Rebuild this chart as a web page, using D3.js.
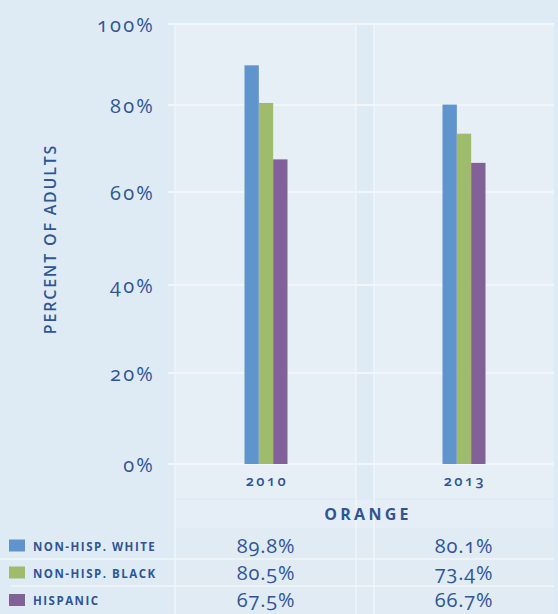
<!DOCTYPE html>
<html>
<head>
<meta charset="utf-8">
<script src="https://cdn.jsdelivr.net/npm/d3@7"></script>
<style>
  html, body { margin: 0; padding: 0; background: #deebf4; }
  svg { display: block; }
  text { font-family: "Open Sans", "Noto Sans", sans-serif; fill: #2f5597; }
  .num { font-variant-numeric: oldstyle-nums; }
</style>
</head>
<body>
<script>
// Adults by ethnicity, Orange county
const years = ["2010", "2013"];
const series = ["NON-HISP. WHITE", "NON-HISP. BLACK", "HISPANIC"];
const white = [89.8, 80.1];
const black = [80.5, 73.4];
const hispanic = [67.5, 66.7];
const seriesColors = ["#5f94cd", "#9fbc6d", "#816198"];
const tickValues = [0, 20, 40, 60, 80, 100];
const tickLabels = ["0%", "20%", "40%", "60%", "80%", "100%"];
const groupName = "ORANGE";
const axisTitle = "PERCENT OF ADULTS";

const values = [white, black, hispanic];

const W = 558, H = 614;
const svg = d3.select("body").append("svg").attr("width", W).attr("height", H);

const plotLeft = 176, plotRight = 554, plotTop = 24;

// value axis: gridlines stand at fixed stops of the frame
const y = d3.scaleLinear()
  .domain(tickValues)
  .range([464, 373, 285, 192, 105, 24]);

const x = d3.scaleBand().domain(years).range([plotLeft, plotRight])
  .paddingInner(0.0909).paddingOuter(0);
const x1 = d3.scaleBand().domain(series).range([0, 43]);

// panels, one per year
svg.append("g").selectAll("rect").data(years).join("rect")
  .attr("x", d => x(d)).attr("y", plotTop)
  .attr("width", x.bandwidth()).attr("height", 498 - plotTop)
  .attr("fill", "#e6eef6");

// group label row
svg.append("rect").attr("x", plotLeft).attr("y", 500)
  .attr("width", plotRight - plotLeft).attr("height", 28).attr("fill", "#e5eef6");

// table rows
const rowTop = [528, 559, 586];
const rowBottom = [559, 586, 614];
svg.append("g").selectAll("rect").data(series).join("rect")
  .attr("x", plotLeft).attr("y", (d, i) => rowTop[i])
  .attr("width", plotRight - plotLeft).attr("height", (d, i) => rowBottom[i] - rowTop[i])
  .attr("fill", "#e0ebf4");

// horizontal gridlines
svg.append("g").selectAll("line").data(tickValues).join("line")
  .attr("x1", 168).attr("x2", plotRight)
  .attr("y1", d => y(d)).attr("y2", d => y(d))
  .attr("stroke", "#f4f8fb").attr("stroke-width", 2).attr("opacity", 0.85);

// vertical rules
const vx = [175, x(years[0]) + x.bandwidth(), x(years[1])];
svg.append("g").selectAll("line").data(vx).join("line")
  .attr("x1", d => d).attr("x2", d => d)
  .attr("y1", plotTop).attr("y2", H)
  .attr("stroke", "#f4f8fb").attr("stroke-width", 1.5).attr("opacity", 0.8);

// table row separators
svg.append("g").selectAll("line").data([559, 586]).join("line")
  .attr("x1", (d, i) => i === 0 ? 0 : 11).attr("x2", plotRight)
  .attr("y1", d => d).attr("y2", d => d)
  .attr("stroke", "#f4f8fb").attr("stroke-width", 1.5).attr("opacity", 0.9);

// bars
const barGroups = svg.append("g").selectAll("g").data(years).join("g")
  .attr("transform", d => `translate(${x(d) + x.bandwidth() / 2 - 21.5},0)`);
barGroups.selectAll("rect")
  .data((d, j) => series.map((s, i) => ({ s, i, v: values[i][j] })))
  .join("rect")
  .attr("x", d => x1(d.s)).attr("width", x1.bandwidth())
  .attr("y", d => y(d.v)).attr("height", d => y(0) - y(d.v))
  .attr("fill", d => seriesColors[d.i]);

// tick labels
const yAxis = d3.axisLeft(y).tickValues(tickValues)
  .tickFormat((d, i) => tickLabels[i]).tickSize(0).tickPadding(0);
const ya = svg.append("g").attr("transform", "translate(155,0)").call(yAxis);
ya.select(".domain").remove();
ya.selectAll("text")
  .attr("class", "num")
  .style("font-family", '"Open Sans", "Noto Sans", sans-serif')
  .style("font-size", "20px").style("fill", "#2f5597")
  .style("font-weight", "500")
  .style("letter-spacing", "2.2px")
  .attr("dy", "0.35em");

// axis title
svg.append("text")
  .attr("transform", "translate(56,239) rotate(-90)")
  .attr("text-anchor", "middle")
  .style("font-size", "16px").style("font-weight", "600")
  .style("letter-spacing", "1.8px")
  .text(axisTitle);

// year labels
svg.append("g").selectAll("text").data(years).join("text")
  .attr("class", "num")
  .attr("x", d => x(d) + x.bandwidth() / 2 + 1)
  .attr("y", 486)
  .attr("text-anchor", "middle")
  .style("font-size", "14.5px").style("font-weight", "600")
  .style("letter-spacing", "2.5px")
  .text(d => d);

// group label
svg.append("text")
  .attr("x", 368).attr("y", 520).attr("text-anchor", "middle")
  .style("font-size", "16px").style("font-weight", "bold")
  .style("letter-spacing", "3.3px")
  .text(groupName);

// legend rows
const rowMid = rowTop.map((t, i) => (t + rowBottom[i]) / 2);
const leg = svg.append("g").selectAll("g").data(series).join("g");
leg.append("rect")
  .attr("x", 9).attr("y", (d, i) => rowMid[i] - 6 + (i === 0 ? 2 : 0))
  .attr("width", 16).attr("height", 12)
  .attr("fill", (d, i) => seriesColors[i]);
leg.append("text")
  .attr("x", 33).attr("y", (d, i) => rowMid[i] + 5 + (i === 0 ? 2 : 0))
  .style("font-size", "11.5px").style("font-weight", "bold")
  .style("letter-spacing", "1.5px")
  .text(d => d);

// value cells
series.forEach((s, i) => {
  svg.append("g").selectAll("text").data(years).join("text")
    .attr("class", "num")
    .attr("x", d => x(d) + x.bandwidth() / 2)
    .attr("y", rowMid[i] + 7 + (i === 0 ? 2 : 0))
    .attr("text-anchor", "middle")
    .style("font-size", "20px").style("font-weight", "500")
    .style("letter-spacing", "0.8px")
    .text((d, j) => values[i][j].toFixed(1) + "%");
});
</script>
</body>
</html>
